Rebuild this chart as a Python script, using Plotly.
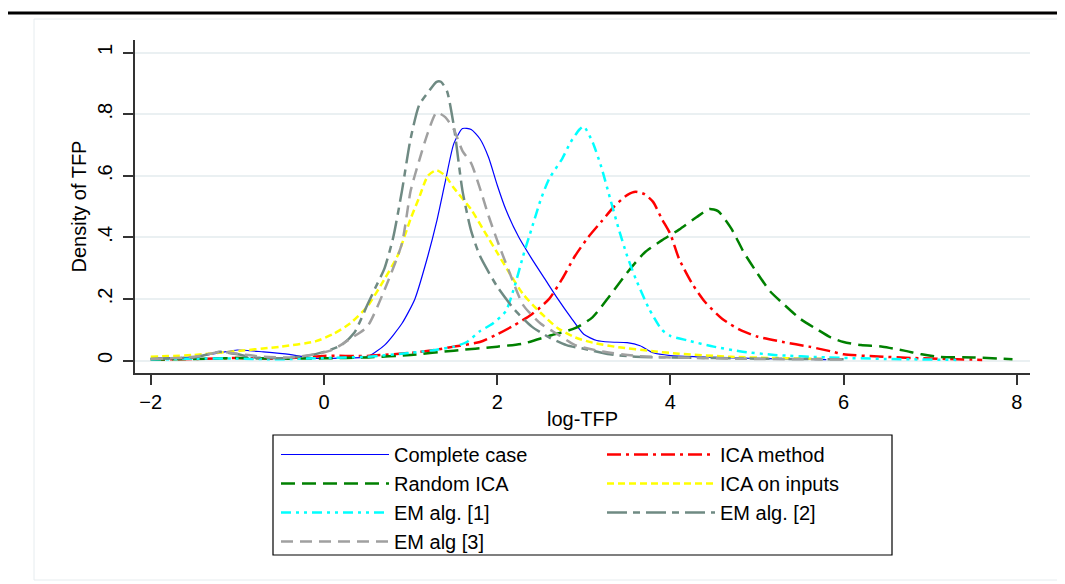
import plotly.graph_objects as go

# ---------------- data ----------------
cc_x = [-2.0, -1.5, -1.2, -1.0, -0.7, -0.4, -0.15, 0.2, 0.5, 0.7, 0.9, 1.05, 1.2, 1.3, 1.4, 1.5, 1.6, 1.7, 1.8, 1.9,
        2.0, 2.1, 2.25, 2.4, 2.55, 2.7, 2.85, 3.0, 3.15, 3.3, 3.5, 3.65, 3.8, 4.0, 4.3, 4.8, 5.3, 5.8]
cc_y = [0.008, 0.012, 0.025, 0.034, 0.028, 0.02, 0.008, 0.008, 0.012, 0.05, 0.12, 0.2, 0.34, 0.45, 0.58, 0.705, 0.753,
        0.75, 0.72, 0.66, 0.57, 0.49, 0.40, 0.33, 0.265, 0.2, 0.14, 0.085, 0.065, 0.06, 0.058, 0.048, 0.025, 0.016,
        0.012, 0.008, 0.005, 0.003]

ica_x = [-2.0, -1.5, -1.0, -0.5, 0.0, 0.5, 1.0, 1.3, 1.5, 1.8, 2.0, 2.2, 2.4, 2.6, 2.75, 2.9, 3.05, 3.2, 3.35, 3.5,
         3.6, 3.7, 3.8, 3.9, 4.0, 4.1, 4.25, 4.4, 4.6, 4.8, 5.0, 5.3, 5.6, 5.85, 6.0, 6.4, 6.8, 7.2, 7.6]
ica_y = [0.003, 0.005, 0.008, 0.006, 0.015, 0.015, 0.025, 0.035, 0.045, 0.06, 0.085, 0.115, 0.15, 0.2, 0.265, 0.34,
         0.4, 0.45, 0.5, 0.537, 0.548, 0.54, 0.515, 0.46, 0.41, 0.33, 0.25, 0.19, 0.135, 0.1, 0.078, 0.06, 0.045,
         0.03, 0.02, 0.013, 0.008, 0.005, 0.002]

rica_x = [-2.0, -1.5, -1.0, -0.5, 0.0, 0.5, 1.0, 1.5, 2.0, 2.3, 2.6, 2.9, 3.1, 3.3, 3.5, 3.7, 3.9, 4.1, 4.3, 4.45,
          4.55, 4.7, 4.85, 5.0, 5.15, 5.3, 5.5, 5.7, 5.85, 6.0, 6.2, 6.45, 6.7, 6.9, 7.1, 7.5, 7.95]
rica_y = [0.003, 0.005, 0.008, 0.006, 0.007, 0.01, 0.018, 0.032, 0.045, 0.055, 0.08, 0.105, 0.14, 0.21, 0.285, 0.35,
          0.39, 0.425, 0.465, 0.492, 0.485, 0.43, 0.35, 0.285, 0.225, 0.185, 0.135, 0.1, 0.075, 0.06, 0.05, 0.045,
          0.032, 0.02, 0.012, 0.01, 0.004]

inp_x = [-2.0, -1.5, -1.1, -0.5, -0.1, 0.1, 0.3, 0.5, 0.7, 0.85, 1.0, 1.1, 1.2, 1.3, 1.4, 1.5, 1.7, 1.85, 2.0, 2.15,
         2.3, 2.5, 2.7, 2.9, 3.1, 3.4, 3.8, 4.1, 4.7, 5.2, 5.8]
inp_y = [0.012, 0.018, 0.028, 0.045, 0.062, 0.085, 0.12, 0.175, 0.265, 0.34, 0.46, 0.53, 0.60, 0.618, 0.60, 0.56,
         0.49, 0.42, 0.35, 0.28, 0.215, 0.155, 0.105, 0.075, 0.058, 0.043, 0.03, 0.022, 0.012, 0.008, 0.005]

em1_x = [-2.0, -1.5, -1.0, -0.5, 0.0, 0.5, 1.0, 1.3, 1.5, 1.65, 1.8, 1.95, 2.1, 2.2, 2.3, 2.4, 2.5, 2.6, 2.75, 2.85,
         2.95, 3.0, 3.1, 3.2, 3.3, 3.4, 3.5, 3.6, 3.75, 3.9, 4.0, 4.2, 4.5, 4.8, 5.2, 5.8, 6.5, 7.3]
em1_y = [0.003, 0.006, 0.006, 0.004, 0.008, 0.012, 0.025, 0.035, 0.045, 0.06, 0.095, 0.12, 0.16, 0.24, 0.34, 0.43,
         0.52, 0.59, 0.655, 0.71, 0.75, 0.76, 0.71, 0.63, 0.53, 0.43, 0.34, 0.265, 0.17, 0.1, 0.08, 0.065, 0.045,
         0.03, 0.018, 0.01, 0.005, 0.002]

em2_x = [-2.0, -1.5, -1.2, -1.0, -0.8, -0.5, -0.2, 0.0, 0.2, 0.35, 0.5, 0.6, 0.7, 0.8, 0.9, 1.0, 1.1, 1.2, 1.3, 1.35,
         1.42, 1.5, 1.6, 1.7, 1.8, 2.0, 2.2, 2.4, 2.6, 2.8, 3.0, 3.3, 3.6, 4.0, 5.0, 6.0]
em2_y = [0.005, 0.01, 0.028, 0.02, 0.01, 0.007, 0.015, 0.028, 0.05, 0.09, 0.18, 0.24, 0.30, 0.40, 0.55, 0.72, 0.83,
         0.87, 0.905, 0.905, 0.875, 0.76, 0.55, 0.42, 0.34, 0.24, 0.165, 0.11, 0.075, 0.05, 0.038, 0.02, 0.012,
         0.01, 0.006, 0.004]

em3_x = [-2.0, -1.5, -1.2, -1.0, -0.7, -0.4, -0.1, 0.1, 0.3, 0.5, 0.7, 0.9, 1.0, 1.1, 1.2, 1.3, 1.4, 1.5, 1.6, 1.7,
         1.8, 1.9, 2.0, 2.15, 2.3, 2.5, 2.7, 2.9, 3.2, 3.6, 4.0, 5.0, 6.0]
em3_y = [0.005, 0.012, 0.028, 0.022, 0.012, 0.01, 0.02, 0.035, 0.07, 0.11, 0.23, 0.38, 0.55, 0.65, 0.74, 0.805,
         0.79, 0.75, 0.68, 0.64, 0.56, 0.47, 0.39, 0.28, 0.18, 0.12, 0.085, 0.05, 0.03, 0.015, 0.01, 0.005, 0.003]

series_names = ["Complete case", "ICA method", "Random ICA", "ICA on inputs",
                "EM alg. [1]", "EM alg. [2]", "EM alg [3]"]
x_ticks = [-2, 0, 2, 4, 6, 8]
y_ticks = [0, 0.2, 0.4, 0.6, 0.8, 1]
y_tick_text = ["0", ".2", ".4", ".6", ".8", "1"]

# ---------------- styles ----------------
styles = [
    dict(color="#0000FF", width=1.2, dash="solid"),
    dict(color="#FF0000", width=2.5, dash="14px,5px,3px,5px"),
    dict(color="#008000", width=2.5, dash="14px,7px"),
    dict(color="#FFFF00", width=2.5, dash="7px,4px"),
    dict(color="#00FFFF", width=2.5, dash="10px,5px,3px,5px,3px,5px"),
    dict(color="#6F8A83", width=2.5, dash="20px,6px,7px,6px"),
    dict(color="#A0A0A0", width=2.5, dash="12px,7px"),
]
xs = [cc_x, ica_x, rica_x, inp_x, em1_x, em2_x, em3_x]
ys = [cc_y, ica_y, rica_y, inp_y, em1_y, em2_y, em3_y]

FONT = "Arial, Liberation Sans, Helvetica, sans-serif"

fig = go.Figure()
for name, x, y, st in zip(series_names, xs, ys, styles):
    fig.add_trace(go.Scatter(x=x, y=y, mode="lines", name=name,
                             line=dict(color=st["color"], width=st["width"], dash=st["dash"],
                                       shape="spline", smoothing=0.6)))

# the page body has an 8px margin: work in page pixels, convert to figure pixels
OFF = 8
W, H = 1065 - OFF, 584 - OFF
PL, PR, PT, PB = 135, 1030, 40, 373          # plot area in page pixels
L, T = PL - OFF, PT - OFF
R, B = W - (PR - OFF), H - (PB - OFF)
pw, ph = W - L - R, H - T - B


def px_x(p):
    return (p - OFF - L) / pw


def px_y(p):
    return 1 - (p - OFF - T) / ph


fig.update_layout(
    width=W, height=H,
    margin=dict(l=L, r=R, t=T, b=B, autoexpand=False),
    paper_bgcolor="white", plot_bgcolor="white",
    font=dict(family=FONT, size=20, color="black"),
    showlegend=True,
    legend=dict(
        orientation="h",
        x=px_x(276), y=px_y(435), xanchor="left", yanchor="top",
        bgcolor="rgba(0,0,0,0)", borderwidth=0,
        font=dict(family=FONT, size=20, color="black"),
        itemwidth=108, entrywidth=203, entrywidthmode="pixels",
        traceorder="normal", itemsizing="trace",
    ),
    xaxis=dict(
        range=[-2.182, 8.152], tickvals=x_ticks, ticks="outside", ticklen=10, tickwidth=1.5,
        tickcolor="#333333", showline=True, linecolor="#333333", linewidth=2,
        showgrid=False, zeroline=False,
        title=dict(text="log-TFP", standoff=0, font=dict(size=20)),
        tickfont=dict(size=20),
    ),
    yaxis=dict(
        range=[-0.0406, 1.0406], tickvals=y_ticks, ticktext=y_tick_text, tickangle=-90,
        ticks="outside", ticklen=10, tickwidth=1.5, tickcolor="#333333", ticklabelstandoff=3,
        showline=True, linecolor="#333333", linewidth=2,
        showgrid=True, gridcolor="#EAF0F2", gridwidth=1.5, zeroline=False,
        title=dict(text="Density of TFP", standoff=2, font=dict(size=20)),
        tickfont=dict(size=20),
    ),
    shapes=[
        dict(type="rect", xref="paper", yref="paper",
             x0=px_x(34), x1=px_x(1061), y0=px_y(580), y1=px_y(19),
             line=dict(color="#E6ECEF", width=1), fillcolor="rgba(0,0,0,0)", layer="below"),
        dict(type="line", xref="paper", yref="paper",
             x0=px_x(7), x1=px_x(1065), y0=px_y(13), y1=px_y(13),
             line=dict(color="black", width=3)),
        # legend frame
        dict(type="rect", xref="paper", yref="paper",
             x0=px_x(273), x1=px_x(892), y0=px_y(555), y1=px_y(435),
             line=dict(color="black", width=1.2), fillcolor="white", layer="below"),
    ],
)

fig.write_html("out.html")
